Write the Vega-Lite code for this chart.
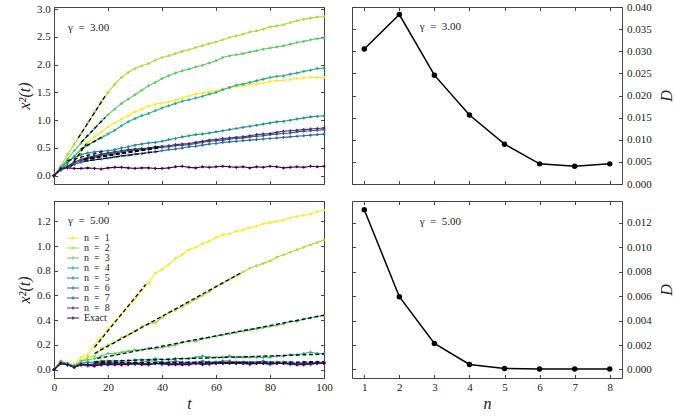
{
"$schema": "https://vega.github.io/schema/vega-lite/v6.json",
"background": "white",
"padding": {"left": 16, "top": 0, "right": 5, "bottom": 5},
"columns": 2,
"spacing": {"row": 17, "column": 28},
"bounds": "flush",
"resolve": {"scale": {"color": "independent"}},
"config": {
  "font": "Liberation Serif",
  "view": {"stroke": "#444", "strokeWidth": 1},
  "axis": {"grid": false, "domain": false, "tickSize": -3.5, "tickColor": "#333", "tickWidth": 0.9, "labelFont": "Liberation Serif", "labelFontSize": 11, "labelColor": "#222", "labelPadding": 7.2, "labelFlush": false, "labelOverlap": false, "titleFont": "Liberation Serif", "titleFontStyle": "italic", "titleFontWeight": "normal", "titleFontSize": 16, "titleColor": "#222"},
  "legend": {"labelFont": "Liberation Serif"},
  "text": {"font": "Liberation Serif"}
},
"datasets": {
"g3": [
{"s":"n = 1","t":0,"v":0},{"s":"n = 1","t":2.5,"v":0.12},{"s":"n = 1","t":5,"v":0.13},{"s":"n = 1","t":7.5,"v":0.28},{"s":"n = 1","t":10,"v":0.45},{"s":"n = 1","t":12.5,"v":0.6},{"s":"n = 1","t":15,"v":0.7},{"s":"n = 1","t":17.5,"v":0.79},{"s":"n = 1","t":20,"v":0.88},{"s":"n = 1","t":22.5,"v":0.95},{"s":"n = 1","t":25,"v":1.02},{"s":"n = 1","t":27.5,"v":1.08},{"s":"n = 1","t":30,"v":1.15},{"s":"n = 1","t":32.5,"v":1.2},{"s":"n = 1","t":35,"v":1.25},{"s":"n = 1","t":37.5,"v":1.29},{"s":"n = 1","t":40,"v":1.31},{"s":"n = 1","t":42.5,"v":1.33},{"s":"n = 1","t":45,"v":1.36},{"s":"n = 1","t":47.5,"v":1.4},{"s":"n = 1","t":50,"v":1.44},{"s":"n = 1","t":52.5,"v":1.47},{"s":"n = 1","t":55,"v":1.49},{"s":"n = 1","t":57.5,"v":1.51},{"s":"n = 1","t":60,"v":1.53},{"s":"n = 1","t":62.5,"v":1.56},{"s":"n = 1","t":65,"v":1.59},{"s":"n = 1","t":67.5,"v":1.61},{"s":"n = 1","t":70,"v":1.62},{"s":"n = 1","t":72.5,"v":1.64},{"s":"n = 1","t":75,"v":1.65},{"s":"n = 1","t":77.5,"v":1.67},{"s":"n = 1","t":80,"v":1.7},{"s":"n = 1","t":82.5,"v":1.71},{"s":"n = 1","t":85,"v":1.72},{"s":"n = 1","t":87.5,"v":1.73},{"s":"n = 1","t":90,"v":1.75},{"s":"n = 1","t":92.5,"v":1.76},{"s":"n = 1","t":95,"v":1.77},{"s":"n = 1","t":97.5,"v":1.77},{"s":"n = 1","t":100,"v":1.77},
{"s":"n = 2","t":0,"v":0},{"s":"n = 2","t":2.5,"v":0.17},{"s":"n = 2","t":5,"v":0.38},{"s":"n = 2","t":7.5,"v":0.57},{"s":"n = 2","t":10,"v":0.76},{"s":"n = 2","t":12.5,"v":0.95},{"s":"n = 2","t":15,"v":1.14},{"s":"n = 2","t":17.5,"v":1.33},{"s":"n = 2","t":20,"v":1.5},{"s":"n = 2","t":22.5,"v":1.65},{"s":"n = 2","t":25,"v":1.77},{"s":"n = 2","t":27.5,"v":1.86},{"s":"n = 2","t":30,"v":1.93},{"s":"n = 2","t":32.5,"v":1.98},{"s":"n = 2","t":35,"v":2.02},{"s":"n = 2","t":37.5,"v":2.08},{"s":"n = 2","t":40,"v":2.13},{"s":"n = 2","t":42.5,"v":2.16},{"s":"n = 2","t":45,"v":2.2},{"s":"n = 2","t":47.5,"v":2.24},{"s":"n = 2","t":50,"v":2.27},{"s":"n = 2","t":52.5,"v":2.31},{"s":"n = 2","t":55,"v":2.34},{"s":"n = 2","t":57.5,"v":2.38},{"s":"n = 2","t":60,"v":2.41},{"s":"n = 2","t":62.5,"v":2.45},{"s":"n = 2","t":65,"v":2.49},{"s":"n = 2","t":67.5,"v":2.52},{"s":"n = 2","t":70,"v":2.55},{"s":"n = 2","t":72.5,"v":2.59},{"s":"n = 2","t":75,"v":2.61},{"s":"n = 2","t":77.5,"v":2.64},{"s":"n = 2","t":80,"v":2.68},{"s":"n = 2","t":82.5,"v":2.7},{"s":"n = 2","t":85,"v":2.72},{"s":"n = 2","t":87.5,"v":2.76},{"s":"n = 2","t":90,"v":2.79},{"s":"n = 2","t":92.5,"v":2.82},{"s":"n = 2","t":95,"v":2.84},{"s":"n = 2","t":97.5,"v":2.86},{"s":"n = 2","t":100,"v":2.87},
{"s":"n = 3","t":0,"v":0},{"s":"n = 3","t":2.5,"v":0.15},{"s":"n = 3","t":5,"v":0.3},{"s":"n = 3","t":7.5,"v":0.45},{"s":"n = 3","t":10,"v":0.58},{"s":"n = 3","t":12.5,"v":0.72},{"s":"n = 3","t":15,"v":0.85},{"s":"n = 3","t":17.5,"v":0.98},{"s":"n = 3","t":20,"v":1.1},{"s":"n = 3","t":22.5,"v":1.2},{"s":"n = 3","t":25,"v":1.3},{"s":"n = 3","t":27.5,"v":1.38},{"s":"n = 3","t":30,"v":1.46},{"s":"n = 3","t":32.5,"v":1.54},{"s":"n = 3","t":35,"v":1.62},{"s":"n = 3","t":37.5,"v":1.68},{"s":"n = 3","t":40,"v":1.75},{"s":"n = 3","t":42.5,"v":1.8},{"s":"n = 3","t":45,"v":1.85},{"s":"n = 3","t":47.5,"v":1.89},{"s":"n = 3","t":50,"v":1.92},{"s":"n = 3","t":52.5,"v":1.96},{"s":"n = 3","t":55,"v":1.99},{"s":"n = 3","t":57.5,"v":2.03},{"s":"n = 3","t":60,"v":2.07},{"s":"n = 3","t":62.5,"v":2.13},{"s":"n = 3","t":65,"v":2.16},{"s":"n = 3","t":67.5,"v":2.18},{"s":"n = 3","t":70,"v":2.2},{"s":"n = 3","t":72.5,"v":2.23},{"s":"n = 3","t":75,"v":2.25},{"s":"n = 3","t":77.5,"v":2.28},{"s":"n = 3","t":80,"v":2.3},{"s":"n = 3","t":82.5,"v":2.32},{"s":"n = 3","t":85,"v":2.34},{"s":"n = 3","t":87.5,"v":2.37},{"s":"n = 3","t":90,"v":2.4},{"s":"n = 3","t":92.5,"v":2.42},{"s":"n = 3","t":95,"v":2.45},{"s":"n = 3","t":97.5,"v":2.47},{"s":"n = 3","t":100,"v":2.48},
{"s":"n = 4","t":0,"v":0},{"s":"n = 4","t":2.5,"v":0.12},{"s":"n = 4","t":5,"v":0.22},{"s":"n = 4","t":7.5,"v":0.35},{"s":"n = 4","t":10,"v":0.47},{"s":"n = 4","t":12.5,"v":0.55},{"s":"n = 4","t":15,"v":0.62},{"s":"n = 4","t":17.5,"v":0.68},{"s":"n = 4","t":20,"v":0.75},{"s":"n = 4","t":22.5,"v":0.82},{"s":"n = 4","t":25,"v":0.9},{"s":"n = 4","t":27.5,"v":0.97},{"s":"n = 4","t":30,"v":1.03},{"s":"n = 4","t":32.5,"v":1.08},{"s":"n = 4","t":35,"v":1.12},{"s":"n = 4","t":37.5,"v":1.17},{"s":"n = 4","t":40,"v":1.22},{"s":"n = 4","t":42.5,"v":1.26},{"s":"n = 4","t":45,"v":1.3},{"s":"n = 4","t":47.5,"v":1.34},{"s":"n = 4","t":50,"v":1.37},{"s":"n = 4","t":52.5,"v":1.4},{"s":"n = 4","t":55,"v":1.43},{"s":"n = 4","t":57.5,"v":1.47},{"s":"n = 4","t":60,"v":1.5},{"s":"n = 4","t":62.5,"v":1.55},{"s":"n = 4","t":65,"v":1.59},{"s":"n = 4","t":67.5,"v":1.63},{"s":"n = 4","t":70,"v":1.65},{"s":"n = 4","t":72.5,"v":1.68},{"s":"n = 4","t":75,"v":1.71},{"s":"n = 4","t":77.5,"v":1.74},{"s":"n = 4","t":80,"v":1.77},{"s":"n = 4","t":82.5,"v":1.79},{"s":"n = 4","t":85,"v":1.8},{"s":"n = 4","t":87.5,"v":1.83},{"s":"n = 4","t":90,"v":1.85},{"s":"n = 4","t":92.5,"v":1.88},{"s":"n = 4","t":95,"v":1.9},{"s":"n = 4","t":97.5,"v":1.93},{"s":"n = 4","t":100,"v":1.94},
{"s":"n = 5","t":0,"v":0},{"s":"n = 5","t":2.5,"v":0.15},{"s":"n = 5","t":5,"v":0.25},{"s":"n = 5","t":7.5,"v":0.33},{"s":"n = 5","t":10,"v":0.38},{"s":"n = 5","t":12.5,"v":0.41},{"s":"n = 5","t":15,"v":0.43},{"s":"n = 5","t":17.5,"v":0.44},{"s":"n = 5","t":20,"v":0.45},{"s":"n = 5","t":22.5,"v":0.47},{"s":"n = 5","t":25,"v":0.5},{"s":"n = 5","t":27.5,"v":0.52},{"s":"n = 5","t":30,"v":0.55},{"s":"n = 5","t":32.5,"v":0.57},{"s":"n = 5","t":35,"v":0.59},{"s":"n = 5","t":37.5,"v":0.6},{"s":"n = 5","t":40,"v":0.62},{"s":"n = 5","t":42.5,"v":0.65},{"s":"n = 5","t":45,"v":0.67},{"s":"n = 5","t":47.5,"v":0.7},{"s":"n = 5","t":50,"v":0.72},{"s":"n = 5","t":52.5,"v":0.74},{"s":"n = 5","t":55,"v":0.75},{"s":"n = 5","t":57.5,"v":0.77},{"s":"n = 5","t":60,"v":0.79},{"s":"n = 5","t":62.5,"v":0.81},{"s":"n = 5","t":65,"v":0.83},{"s":"n = 5","t":67.5,"v":0.85},{"s":"n = 5","t":70,"v":0.87},{"s":"n = 5","t":72.5,"v":0.89},{"s":"n = 5","t":75,"v":0.91},{"s":"n = 5","t":77.5,"v":0.93},{"s":"n = 5","t":80,"v":0.95},{"s":"n = 5","t":82.5,"v":0.97},{"s":"n = 5","t":85,"v":0.98},{"s":"n = 5","t":87.5,"v":1.0},{"s":"n = 5","t":90,"v":1.02},{"s":"n = 5","t":92.5,"v":1.04},{"s":"n = 5","t":95,"v":1.06},{"s":"n = 5","t":97.5,"v":1.07},{"s":"n = 5","t":100,"v":1.08},
{"s":"n = 6","t":0,"v":0},{"s":"n = 6","t":2.5,"v":0.1},{"s":"n = 6","t":5,"v":0.15},{"s":"n = 6","t":7.5,"v":0.2},{"s":"n = 6","t":10,"v":0.24},{"s":"n = 6","t":12.5,"v":0.27},{"s":"n = 6","t":15,"v":0.29},{"s":"n = 6","t":17.5,"v":0.3},{"s":"n = 6","t":20,"v":0.32},{"s":"n = 6","t":22.5,"v":0.34},{"s":"n = 6","t":25,"v":0.36},{"s":"n = 6","t":27.5,"v":0.37},{"s":"n = 6","t":30,"v":0.39},{"s":"n = 6","t":32.5,"v":0.4},{"s":"n = 6","t":35,"v":0.42},{"s":"n = 6","t":37.5,"v":0.43},{"s":"n = 6","t":40,"v":0.45},{"s":"n = 6","t":42.5,"v":0.47},{"s":"n = 6","t":45,"v":0.48},{"s":"n = 6","t":47.5,"v":0.5},{"s":"n = 6","t":50,"v":0.52},{"s":"n = 6","t":52.5,"v":0.53},{"s":"n = 6","t":55,"v":0.55},{"s":"n = 6","t":57.5,"v":0.57},{"s":"n = 6","t":60,"v":0.58},{"s":"n = 6","t":62.5,"v":0.6},{"s":"n = 6","t":65,"v":0.61},{"s":"n = 6","t":67.5,"v":0.62},{"s":"n = 6","t":70,"v":0.63},{"s":"n = 6","t":72.5,"v":0.64},{"s":"n = 6","t":75,"v":0.65},{"s":"n = 6","t":77.5,"v":0.66},{"s":"n = 6","t":80,"v":0.67},{"s":"n = 6","t":82.5,"v":0.68},{"s":"n = 6","t":85,"v":0.69},{"s":"n = 6","t":87.5,"v":0.7},{"s":"n = 6","t":90,"v":0.71},{"s":"n = 6","t":92.5,"v":0.72},{"s":"n = 6","t":95,"v":0.73},{"s":"n = 6","t":97.5,"v":0.74},{"s":"n = 6","t":100,"v":0.75},
{"s":"n = 7","t":0,"v":0},{"s":"n = 7","t":2.5,"v":0.12},{"s":"n = 7","t":5,"v":0.17},{"s":"n = 7","t":7.5,"v":0.23},{"s":"n = 7","t":10,"v":0.27},{"s":"n = 7","t":12.5,"v":0.31},{"s":"n = 7","t":15,"v":0.34},{"s":"n = 7","t":17.5,"v":0.37},{"s":"n = 7","t":20,"v":0.39},{"s":"n = 7","t":22.5,"v":0.41},{"s":"n = 7","t":25,"v":0.43},{"s":"n = 7","t":27.5,"v":0.45},{"s":"n = 7","t":30,"v":0.46},{"s":"n = 7","t":32.5,"v":0.47},{"s":"n = 7","t":35,"v":0.48},{"s":"n = 7","t":37.5,"v":0.5},{"s":"n = 7","t":40,"v":0.51},{"s":"n = 7","t":42.5,"v":0.52},{"s":"n = 7","t":45,"v":0.54},{"s":"n = 7","t":47.5,"v":0.55},{"s":"n = 7","t":50,"v":0.56},{"s":"n = 7","t":52.5,"v":0.58},{"s":"n = 7","t":55,"v":0.6},{"s":"n = 7","t":57.5,"v":0.62},{"s":"n = 7","t":60,"v":0.63},{"s":"n = 7","t":62.5,"v":0.64},{"s":"n = 7","t":65,"v":0.66},{"s":"n = 7","t":67.5,"v":0.67},{"s":"n = 7","t":70,"v":0.68},{"s":"n = 7","t":72.5,"v":0.7},{"s":"n = 7","t":75,"v":0.71},{"s":"n = 7","t":77.5,"v":0.72},{"s":"n = 7","t":80,"v":0.74},{"s":"n = 7","t":82.5,"v":0.75},{"s":"n = 7","t":85,"v":0.76},{"s":"n = 7","t":87.5,"v":0.77},{"s":"n = 7","t":90,"v":0.79},{"s":"n = 7","t":92.5,"v":0.8},{"s":"n = 7","t":95,"v":0.81},{"s":"n = 7","t":97.5,"v":0.82},{"s":"n = 7","t":100,"v":0.83},
{"s":"n = 8","t":0,"v":0},{"s":"n = 8","t":2.5,"v":0.12},{"s":"n = 8","t":5,"v":0.17},{"s":"n = 8","t":7.5,"v":0.24},{"s":"n = 8","t":10,"v":0.29},{"s":"n = 8","t":12.5,"v":0.33},{"s":"n = 8","t":15,"v":0.36},{"s":"n = 8","t":17.5,"v":0.39},{"s":"n = 8","t":20,"v":0.41},{"s":"n = 8","t":22.5,"v":0.43},{"s":"n = 8","t":25,"v":0.45},{"s":"n = 8","t":27.5,"v":0.47},{"s":"n = 8","t":30,"v":0.48},{"s":"n = 8","t":32.5,"v":0.49},{"s":"n = 8","t":35,"v":0.5},{"s":"n = 8","t":37.5,"v":0.52},{"s":"n = 8","t":40,"v":0.53},{"s":"n = 8","t":42.5,"v":0.54},{"s":"n = 8","t":45,"v":0.56},{"s":"n = 8","t":47.5,"v":0.57},{"s":"n = 8","t":50,"v":0.58},{"s":"n = 8","t":52.5,"v":0.6},{"s":"n = 8","t":55,"v":0.62},{"s":"n = 8","t":57.5,"v":0.64},{"s":"n = 8","t":60,"v":0.65},{"s":"n = 8","t":62.5,"v":0.67},{"s":"n = 8","t":65,"v":0.68},{"s":"n = 8","t":67.5,"v":0.69},{"s":"n = 8","t":70,"v":0.7},{"s":"n = 8","t":72.5,"v":0.72},{"s":"n = 8","t":75,"v":0.74},{"s":"n = 8","t":77.5,"v":0.75},{"s":"n = 8","t":80,"v":0.76},{"s":"n = 8","t":82.5,"v":0.78},{"s":"n = 8","t":85,"v":0.8},{"s":"n = 8","t":87.5,"v":0.81},{"s":"n = 8","t":90,"v":0.82},{"s":"n = 8","t":92.5,"v":0.83},{"s":"n = 8","t":95,"v":0.84},{"s":"n = 8","t":97.5,"v":0.85},{"s":"n = 8","t":100,"v":0.86},
{"s":"Exact","t":0,"v":0},{"s":"Exact","t":2.5,"v":0.12},{"s":"Exact","t":5,"v":0.14},{"s":"Exact","t":7.5,"v":0.13},{"s":"Exact","t":10,"v":0.13},{"s":"Exact","t":12.5,"v":0.14},{"s":"Exact","t":15,"v":0.13},{"s":"Exact","t":17.5,"v":0.12},{"s":"Exact","t":20,"v":0.14},{"s":"Exact","t":22.5,"v":0.15},{"s":"Exact","t":25,"v":0.15},{"s":"Exact","t":27.5,"v":0.14},{"s":"Exact","t":30,"v":0.13},{"s":"Exact","t":32.5,"v":0.14},{"s":"Exact","t":35,"v":0.14},{"s":"Exact","t":37.5,"v":0.13},{"s":"Exact","t":40,"v":0.13},{"s":"Exact","t":42.5,"v":0.14},{"s":"Exact","t":45,"v":0.16},{"s":"Exact","t":47.5,"v":0.17},{"s":"Exact","t":50,"v":0.15},{"s":"Exact","t":52.5,"v":0.14},{"s":"Exact","t":55,"v":0.16},{"s":"Exact","t":57.5,"v":0.15},{"s":"Exact","t":60,"v":0.16},{"s":"Exact","t":62.5,"v":0.17},{"s":"Exact","t":65,"v":0.16},{"s":"Exact","t":67.5,"v":0.15},{"s":"Exact","t":70,"v":0.16},{"s":"Exact","t":72.5,"v":0.14},{"s":"Exact","t":75,"v":0.16},{"s":"Exact","t":77.5,"v":0.15},{"s":"Exact","t":80,"v":0.17},{"s":"Exact","t":82.5,"v":0.16},{"s":"Exact","t":85,"v":0.14},{"s":"Exact","t":87.5,"v":0.15},{"s":"Exact","t":90,"v":0.16},{"s":"Exact","t":92.5,"v":0.15},{"s":"Exact","t":95,"v":0.17},{"s":"Exact","t":97.5,"v":0.16},{"s":"Exact","t":100,"v":0.17}
],
"g5": [
{"s":"n = 1","t":0,"v":0},{"s":"n = 1","t":2.5,"v":0.06},{"s":"n = 1","t":5,"v":0.04},{"s":"n = 1","t":7.5,"v":0.04},{"s":"n = 1","t":10,"v":0.1},{"s":"n = 1","t":12.5,"v":0.12},{"s":"n = 1","t":15,"v":0.2},{"s":"n = 1","t":17.5,"v":0.26},{"s":"n = 1","t":20,"v":0.33},{"s":"n = 1","t":22.5,"v":0.39},{"s":"n = 1","t":25,"v":0.45},{"s":"n = 1","t":27.5,"v":0.51},{"s":"n = 1","t":30,"v":0.57},{"s":"n = 1","t":32.5,"v":0.64},{"s":"n = 1","t":35,"v":0.7},{"s":"n = 1","t":37.5,"v":0.78},{"s":"n = 1","t":40,"v":0.81},{"s":"n = 1","t":42.5,"v":0.85},{"s":"n = 1","t":45,"v":0.9},{"s":"n = 1","t":47.5,"v":0.93},{"s":"n = 1","t":50,"v":0.97},{"s":"n = 1","t":52.5,"v":0.99},{"s":"n = 1","t":55,"v":1.02},{"s":"n = 1","t":57.5,"v":1.04},{"s":"n = 1","t":60,"v":1.07},{"s":"n = 1","t":62.5,"v":1.09},{"s":"n = 1","t":65,"v":1.1},{"s":"n = 1","t":67.5,"v":1.12},{"s":"n = 1","t":70,"v":1.13},{"s":"n = 1","t":72.5,"v":1.15},{"s":"n = 1","t":75,"v":1.16},{"s":"n = 1","t":77.5,"v":1.18},{"s":"n = 1","t":80,"v":1.19},{"s":"n = 1","t":82.5,"v":1.2},{"s":"n = 1","t":85,"v":1.21},{"s":"n = 1","t":87.5,"v":1.23},{"s":"n = 1","t":90,"v":1.24},{"s":"n = 1","t":92.5,"v":1.25},{"s":"n = 1","t":95,"v":1.26},{"s":"n = 1","t":97.5,"v":1.28},{"s":"n = 1","t":100,"v":1.29},
{"s":"n = 2","t":0,"v":0},{"s":"n = 2","t":2.5,"v":0.06},{"s":"n = 2","t":5,"v":0.05},{"s":"n = 2","t":7.5,"v":0.03},{"s":"n = 2","t":10,"v":0.07},{"s":"n = 2","t":12.5,"v":0.1},{"s":"n = 2","t":15,"v":0.11},{"s":"n = 2","t":17.5,"v":0.17},{"s":"n = 2","t":20,"v":0.2},{"s":"n = 2","t":22.5,"v":0.22},{"s":"n = 2","t":25,"v":0.26},{"s":"n = 2","t":27.5,"v":0.28},{"s":"n = 2","t":30,"v":0.31},{"s":"n = 2","t":32.5,"v":0.35},{"s":"n = 2","t":35,"v":0.37},{"s":"n = 2","t":37.5,"v":0.38},{"s":"n = 2","t":40,"v":0.42},{"s":"n = 2","t":42.5,"v":0.46},{"s":"n = 2","t":45,"v":0.48},{"s":"n = 2","t":47.5,"v":0.51},{"s":"n = 2","t":50,"v":0.54},{"s":"n = 2","t":52.5,"v":0.57},{"s":"n = 2","t":55,"v":0.6},{"s":"n = 2","t":57.5,"v":0.63},{"s":"n = 2","t":60,"v":0.67},{"s":"n = 2","t":62.5,"v":0.7},{"s":"n = 2","t":65,"v":0.73},{"s":"n = 2","t":67.5,"v":0.76},{"s":"n = 2","t":70,"v":0.79},{"s":"n = 2","t":72.5,"v":0.82},{"s":"n = 2","t":75,"v":0.84},{"s":"n = 2","t":77.5,"v":0.86},{"s":"n = 2","t":80,"v":0.88},{"s":"n = 2","t":82.5,"v":0.91},{"s":"n = 2","t":85,"v":0.93},{"s":"n = 2","t":87.5,"v":0.95},{"s":"n = 2","t":90,"v":0.97},{"s":"n = 2","t":92.5,"v":0.99},{"s":"n = 2","t":95,"v":1.01},{"s":"n = 2","t":97.5,"v":1.03},{"s":"n = 2","t":100,"v":1.05},
{"s":"n = 3","t":0,"v":0},{"s":"n = 3","t":2.5,"v":0.07},{"s":"n = 3","t":5,"v":0.05},{"s":"n = 3","t":7.5,"v":0.03},{"s":"n = 3","t":10,"v":0.07},{"s":"n = 3","t":12.5,"v":0.08},{"s":"n = 3","t":15,"v":0.09},{"s":"n = 3","t":17.5,"v":0.11},{"s":"n = 3","t":20,"v":0.13},{"s":"n = 3","t":22.5,"v":0.13},{"s":"n = 3","t":25,"v":0.14},{"s":"n = 3","t":27.5,"v":0.15},{"s":"n = 3","t":30,"v":0.16},{"s":"n = 3","t":32.5,"v":0.16},{"s":"n = 3","t":35,"v":0.17},{"s":"n = 3","t":37.5,"v":0.17},{"s":"n = 3","t":40,"v":0.18},{"s":"n = 3","t":42.5,"v":0.19},{"s":"n = 3","t":45,"v":0.2},{"s":"n = 3","t":47.5,"v":0.22},{"s":"n = 3","t":50,"v":0.23},{"s":"n = 3","t":52.5,"v":0.23},{"s":"n = 3","t":55,"v":0.25},{"s":"n = 3","t":57.5,"v":0.26},{"s":"n = 3","t":60,"v":0.27},{"s":"n = 3","t":62.5,"v":0.28},{"s":"n = 3","t":65,"v":0.29},{"s":"n = 3","t":67.5,"v":0.3},{"s":"n = 3","t":70,"v":0.31},{"s":"n = 3","t":72.5,"v":0.32},{"s":"n = 3","t":75,"v":0.33},{"s":"n = 3","t":77.5,"v":0.34},{"s":"n = 3","t":80,"v":0.35},{"s":"n = 3","t":82.5,"v":0.36},{"s":"n = 3","t":85,"v":0.37},{"s":"n = 3","t":87.5,"v":0.39},{"s":"n = 3","t":90,"v":0.39},{"s":"n = 3","t":92.5,"v":0.41},{"s":"n = 3","t":95,"v":0.42},{"s":"n = 3","t":97.5,"v":0.43},{"s":"n = 3","t":100,"v":0.44},
{"s":"n = 4","t":0,"v":0},{"s":"n = 4","t":2.5,"v":0.06},{"s":"n = 4","t":5,"v":0.05},{"s":"n = 4","t":7.5,"v":0.03},{"s":"n = 4","t":10,"v":0.05},{"s":"n = 4","t":12.5,"v":0.06},{"s":"n = 4","t":15,"v":0.06},{"s":"n = 4","t":17.5,"v":0.07},{"s":"n = 4","t":20,"v":0.07},{"s":"n = 4","t":22.5,"v":0.07},{"s":"n = 4","t":25,"v":0.07},{"s":"n = 4","t":27.5,"v":0.07},{"s":"n = 4","t":30,"v":0.08},{"s":"n = 4","t":32.5,"v":0.08},{"s":"n = 4","t":35,"v":0.08},{"s":"n = 4","t":37.5,"v":0.09},{"s":"n = 4","t":40,"v":0.08},{"s":"n = 4","t":42.5,"v":0.08},{"s":"n = 4","t":45,"v":0.09},{"s":"n = 4","t":47.5,"v":0.09},{"s":"n = 4","t":50,"v":0.09},{"s":"n = 4","t":52.5,"v":0.1},{"s":"n = 4","t":55,"v":0.11},{"s":"n = 4","t":57.5,"v":0.1},{"s":"n = 4","t":60,"v":0.1},{"s":"n = 4","t":62.5,"v":0.1},{"s":"n = 4","t":65,"v":0.11},{"s":"n = 4","t":67.5,"v":0.1},{"s":"n = 4","t":70,"v":0.1},{"s":"n = 4","t":72.5,"v":0.1},{"s":"n = 4","t":75,"v":0.1},{"s":"n = 4","t":77.5,"v":0.1},{"s":"n = 4","t":80,"v":0.1},{"s":"n = 4","t":82.5,"v":0.11},{"s":"n = 4","t":85,"v":0.11},{"s":"n = 4","t":87.5,"v":0.12},{"s":"n = 4","t":90,"v":0.12},{"s":"n = 4","t":92.5,"v":0.13},{"s":"n = 4","t":95,"v":0.14},{"s":"n = 4","t":97.5,"v":0.13},{"s":"n = 4","t":100,"v":0.13},
{"s":"n = 5","t":0,"v":0},{"s":"n = 5","t":2.5,"v":0.06},{"s":"n = 5","t":5,"v":0.04},{"s":"n = 5","t":7.5,"v":0.03},{"s":"n = 5","t":10,"v":0.05},{"s":"n = 5","t":12.5,"v":0.06},{"s":"n = 5","t":15,"v":0.05},{"s":"n = 5","t":17.5,"v":0.06},{"s":"n = 5","t":20,"v":0.06},{"s":"n = 5","t":22.5,"v":0.06},{"s":"n = 5","t":25,"v":0.06},{"s":"n = 5","t":27.5,"v":0.05},{"s":"n = 5","t":30,"v":0.06},{"s":"n = 5","t":32.5,"v":0.06},{"s":"n = 5","t":35,"v":0.07},{"s":"n = 5","t":37.5,"v":0.07},{"s":"n = 5","t":40,"v":0.06},{"s":"n = 5","t":42.5,"v":0.06},{"s":"n = 5","t":45,"v":0.07},{"s":"n = 5","t":47.5,"v":0.06},{"s":"n = 5","t":50,"v":0.06},{"s":"n = 5","t":52.5,"v":0.06},{"s":"n = 5","t":55,"v":0.07},{"s":"n = 5","t":57.5,"v":0.06},{"s":"n = 5","t":60,"v":0.06},{"s":"n = 5","t":62.5,"v":0.07},{"s":"n = 5","t":65,"v":0.07},{"s":"n = 5","t":67.5,"v":0.06},{"s":"n = 5","t":70,"v":0.06},{"s":"n = 5","t":72.5,"v":0.06},{"s":"n = 5","t":75,"v":0.06},{"s":"n = 5","t":77.5,"v":0.07},{"s":"n = 5","t":80,"v":0.06},{"s":"n = 5","t":82.5,"v":0.06},{"s":"n = 5","t":85,"v":0.06},{"s":"n = 5","t":87.5,"v":0.06},{"s":"n = 5","t":90,"v":0.05},{"s":"n = 5","t":92.5,"v":0.06},{"s":"n = 5","t":95,"v":0.06},{"s":"n = 5","t":97.5,"v":0.06},{"s":"n = 5","t":100,"v":0.06},
{"s":"n = 6","t":0,"v":0},{"s":"n = 6","t":2.5,"v":0.05},{"s":"n = 6","t":5,"v":0.04},{"s":"n = 6","t":7.5,"v":0.02},{"s":"n = 6","t":10,"v":0.04},{"s":"n = 6","t":12.5,"v":0.03},{"s":"n = 6","t":15,"v":0.03},{"s":"n = 6","t":17.5,"v":0.04},{"s":"n = 6","t":20,"v":0.05},{"s":"n = 6","t":22.5,"v":0.04},{"s":"n = 6","t":25,"v":0.05},{"s":"n = 6","t":27.5,"v":0.05},{"s":"n = 6","t":30,"v":0.04},{"s":"n = 6","t":32.5,"v":0.05},{"s":"n = 6","t":35,"v":0.05},{"s":"n = 6","t":37.5,"v":0.05},{"s":"n = 6","t":40,"v":0.04},{"s":"n = 6","t":42.5,"v":0.05},{"s":"n = 6","t":45,"v":0.05},{"s":"n = 6","t":47.5,"v":0.04},{"s":"n = 6","t":50,"v":0.05},{"s":"n = 6","t":52.5,"v":0.05},{"s":"n = 6","t":55,"v":0.05},{"s":"n = 6","t":57.5,"v":0.04},{"s":"n = 6","t":60,"v":0.05},{"s":"n = 6","t":62.5,"v":0.05},{"s":"n = 6","t":65,"v":0.05},{"s":"n = 6","t":67.5,"v":0.05},{"s":"n = 6","t":70,"v":0.05},{"s":"n = 6","t":72.5,"v":0.04},{"s":"n = 6","t":75,"v":0.05},{"s":"n = 6","t":77.5,"v":0.05},{"s":"n = 6","t":80,"v":0.04},{"s":"n = 6","t":82.5,"v":0.05},{"s":"n = 6","t":85,"v":0.05},{"s":"n = 6","t":87.5,"v":0.04},{"s":"n = 6","t":90,"v":0.04},{"s":"n = 6","t":92.5,"v":0.05},{"s":"n = 6","t":95,"v":0.04},{"s":"n = 6","t":97.5,"v":0.05},{"s":"n = 6","t":100,"v":0.05},
{"s":"n = 7","t":0,"v":0},{"s":"n = 7","t":2.5,"v":0.05},{"s":"n = 7","t":5,"v":0.04},{"s":"n = 7","t":7.5,"v":0.02},{"s":"n = 7","t":10,"v":0.04},{"s":"n = 7","t":12.5,"v":0.04},{"s":"n = 7","t":15,"v":0.04},{"s":"n = 7","t":17.5,"v":0.04},{"s":"n = 7","t":20,"v":0.05},{"s":"n = 7","t":22.5,"v":0.05},{"s":"n = 7","t":25,"v":0.04},{"s":"n = 7","t":27.5,"v":0.05},{"s":"n = 7","t":30,"v":0.05},{"s":"n = 7","t":32.5,"v":0.05},{"s":"n = 7","t":35,"v":0.04},{"s":"n = 7","t":37.5,"v":0.05},{"s":"n = 7","t":40,"v":0.06},{"s":"n = 7","t":42.5,"v":0.05},{"s":"n = 7","t":45,"v":0.05},{"s":"n = 7","t":47.5,"v":0.05},{"s":"n = 7","t":50,"v":0.05},{"s":"n = 7","t":52.5,"v":0.05},{"s":"n = 7","t":55,"v":0.05},{"s":"n = 7","t":57.5,"v":0.05},{"s":"n = 7","t":60,"v":0.06},{"s":"n = 7","t":62.5,"v":0.05},{"s":"n = 7","t":65,"v":0.06},{"s":"n = 7","t":67.5,"v":0.06},{"s":"n = 7","t":70,"v":0.05},{"s":"n = 7","t":72.5,"v":0.05},{"s":"n = 7","t":75,"v":0.05},{"s":"n = 7","t":77.5,"v":0.06},{"s":"n = 7","t":80,"v":0.05},{"s":"n = 7","t":82.5,"v":0.05},{"s":"n = 7","t":85,"v":0.05},{"s":"n = 7","t":87.5,"v":0.05},{"s":"n = 7","t":90,"v":0.05},{"s":"n = 7","t":92.5,"v":0.04},{"s":"n = 7","t":95,"v":0.05},{"s":"n = 7","t":97.5,"v":0.06},{"s":"n = 7","t":100,"v":0.05},
{"s":"n = 8","t":0,"v":0},{"s":"n = 8","t":2.5,"v":0.05},{"s":"n = 8","t":5,"v":0.04},{"s":"n = 8","t":7.5,"v":0.02},{"s":"n = 8","t":10,"v":0.04},{"s":"n = 8","t":12.5,"v":0.04},{"s":"n = 8","t":15,"v":0.04},{"s":"n = 8","t":17.5,"v":0.05},{"s":"n = 8","t":20,"v":0.04},{"s":"n = 8","t":22.5,"v":0.05},{"s":"n = 8","t":25,"v":0.05},{"s":"n = 8","t":27.5,"v":0.05},{"s":"n = 8","t":30,"v":0.05},{"s":"n = 8","t":32.5,"v":0.05},{"s":"n = 8","t":35,"v":0.05},{"s":"n = 8","t":37.5,"v":0.05},{"s":"n = 8","t":40,"v":0.05},{"s":"n = 8","t":42.5,"v":0.05},{"s":"n = 8","t":45,"v":0.05},{"s":"n = 8","t":47.5,"v":0.05},{"s":"n = 8","t":50,"v":0.05},{"s":"n = 8","t":52.5,"v":0.05},{"s":"n = 8","t":55,"v":0.05},{"s":"n = 8","t":57.5,"v":0.06},{"s":"n = 8","t":60,"v":0.05},{"s":"n = 8","t":62.5,"v":0.06},{"s":"n = 8","t":65,"v":0.05},{"s":"n = 8","t":67.5,"v":0.05},{"s":"n = 8","t":70,"v":0.06},{"s":"n = 8","t":72.5,"v":0.05},{"s":"n = 8","t":75,"v":0.05},{"s":"n = 8","t":77.5,"v":0.05},{"s":"n = 8","t":80,"v":0.05},{"s":"n = 8","t":82.5,"v":0.05},{"s":"n = 8","t":85,"v":0.05},{"s":"n = 8","t":87.5,"v":0.05},{"s":"n = 8","t":90,"v":0.05},{"s":"n = 8","t":92.5,"v":0.05},{"s":"n = 8","t":95,"v":0.05},{"s":"n = 8","t":97.5,"v":0.05},{"s":"n = 8","t":100,"v":0.06},
{"s":"Exact","t":0,"v":0},{"s":"Exact","t":2.5,"v":0.05},{"s":"Exact","t":5,"v":0.04},{"s":"Exact","t":7.5,"v":0.02},{"s":"Exact","t":10,"v":0.04},{"s":"Exact","t":12.5,"v":0.04},{"s":"Exact","t":15,"v":0.03},{"s":"Exact","t":17.5,"v":0.04},{"s":"Exact","t":20,"v":0.04},{"s":"Exact","t":22.5,"v":0.04},{"s":"Exact","t":25,"v":0.04},{"s":"Exact","t":27.5,"v":0.04},{"s":"Exact","t":30,"v":0.05},{"s":"Exact","t":32.5,"v":0.04},{"s":"Exact","t":35,"v":0.04},{"s":"Exact","t":37.5,"v":0.05},{"s":"Exact","t":40,"v":0.05},{"s":"Exact","t":42.5,"v":0.04},{"s":"Exact","t":45,"v":0.04},{"s":"Exact","t":47.5,"v":0.04},{"s":"Exact","t":50,"v":0.04},{"s":"Exact","t":52.5,"v":0.05},{"s":"Exact","t":55,"v":0.04},{"s":"Exact","t":57.5,"v":0.05},{"s":"Exact","t":60,"v":0.05},{"s":"Exact","t":62.5,"v":0.05},{"s":"Exact","t":65,"v":0.05},{"s":"Exact","t":67.5,"v":0.05},{"s":"Exact","t":70,"v":0.05},{"s":"Exact","t":72.5,"v":0.05},{"s":"Exact","t":75,"v":0.05},{"s":"Exact","t":77.5,"v":0.05},{"s":"Exact","t":80,"v":0.05},{"s":"Exact","t":82.5,"v":0.05},{"s":"Exact","t":85,"v":0.05},{"s":"Exact","t":87.5,"v":0.05},{"s":"Exact","t":90,"v":0.04},{"s":"Exact","t":92.5,"v":0.04},{"s":"Exact","t":95,"v":0.05},{"s":"Exact","t":97.5,"v":0.05},{"s":"Exact","t":100,"v":0.05}
],
"f3": [
{"s":"n = 1","t":6,"v":0.15},{"s":"n = 1","t":12,"v":0.58},
{"s":"n = 2","t":9,"v":0.68},{"s":"n = 2","t":19,"v":1.44},
{"s":"n = 3","t":10,"v":0.6},{"s":"n = 3","t":19,"v":1.05},
{"s":"n = 4","t":10,"v":0.48},{"s":"n = 4","t":18.5,"v":0.72},
{"s":"n = 5","t":5,"v":0.27},{"s":"n = 5","t":19,"v":0.45},
{"s":"n = 6","t":11,"v":0.26},{"s":"n = 6","t":39,"v":0.44},
{"s":"n = 7","t":11,"v":0.29},{"s":"n = 7","t":39,"v":0.5},
{"s":"n = 8","t":11,"v":0.3},{"s":"n = 8","t":39,"v":0.52}
],
"f5": [
{"s":"n = 1","t":15,"v":0.18},{"s":"n = 1","t":34,"v":0.69},
{"s":"n = 2","t":15,"v":0.13},{"s":"n = 2","t":69,"v":0.78},
{"s":"n = 3","t":16,"v":0.09},{"s":"n = 3","t":100,"v":0.44},
{"s":"n = 4","t":15,"v":0.065},{"s":"n = 4","t":100,"v":0.125},
{"s":"n = 5","t":15,"v":0.055},{"s":"n = 5","t":100,"v":0.062}
],
"d3": [
{"n":1,"D":0.0305},{"n":2,"D":0.0383},{"n":3,"D":0.0246},{"n":4,"D":0.0156},{"n":5,"D":0.009},{"n":6,"D":0.00455},{"n":7,"D":0.004},{"n":8,"D":0.00455}
],
"d5": [
{"n":1,"D":0.01309},{"n":2,"D":0.00596},{"n":3,"D":0.00213},{"n":4,"D":0.00041},{"n":5,"D":0.00008},{"n":6,"D":0.00004},{"n":7,"D":0.00004},{"n":8,"D":0.00004}
]
},
"concat": [
{
 "width": 270, "height": 177,
 "layer": [
  {"data": {"name": "g3"},
   "mark": {"type": "line", "strokeWidth": 1.1, "point": {"shape": "cross", "size": 9}},
   "encoding": {
    "x": {"field": "t", "type": "quantitative", "scale": {"domain": [0, 100], "nice": false, "zero": false}, "axis": {"orient": "bottom", "values": [0, 20, 40, 60, 80, 100], "labels": false, "title": null}},
    "y": {"field": "v", "type": "quantitative", "scale": {"domain": [-0.15, 3.04], "nice": false, "zero": false}, "axis": {"orient": "left", "values": [0, 0.5, 1, 1.5, 2, 2.5, 3], "format": ".1f", "title": "x²(t)", "titlePadding": 4}},
    "color": {"field": "s", "type": "nominal", "scale": {"domain": ["n = 1","n = 2","n = 3","n = 4","n = 5","n = 6","n = 7","n = 8","Exact"], "range": ["#fde725","#aadc32","#5ec962","#27ad81","#21918c","#2c728e","#3b528b","#472d7b","#440154"]}, "legend": null}
   }},
  {"data": {"name": "f3"},
   "mark": {"type": "line", "color": "black", "strokeWidth": 1.3, "strokeDash": [4, 2.5]},
   "encoding": {
    "x": {"field": "t", "type": "quantitative", "scale": {"domain": [0, 100], "nice": false, "zero": false}, "axis": {"orient": "top", "values": [0, 20, 40, 60, 80, 100], "labels": false, "title": null}},
    "y": {"field": "v", "type": "quantitative", "scale": {"domain": [-0.15, 3.04], "nice": false, "zero": false}, "axis": {"orient": "right", "values": [0, 0.5, 1, 1.5, 2, 2.5, 3], "labels": false, "title": null}},
    "detail": {"field": "s", "type": "nominal"}
   }},
  {"data": {"values": [{}]},
   "mark": {"type": "text", "text": "γ\u2002=\u20023.00", "align": "left", "baseline": "middle", "fontSize": 11, "color": "#222"},
   "encoding": {"x": {"datum": 5.2, "type": "quantitative", "axis": null}, "y": {"datum": 2.67, "type": "quantitative", "axis": null}}}
 ],
 "resolve": {"axis": {"x": "independent", "y": "independent"}}
},
{
 "width": 270, "height": 177,
 "layer": [
  {"data": {"name": "d3"},
   "mark": {"type": "line", "color": "black", "strokeWidth": 1.5},
   "encoding": {
    "x": {"field": "n", "type": "quantitative", "scale": {"domain": [0.65, 8.35], "nice": false, "zero": false}, "axis": {"orient": "bottom", "values": [1,2,3,4,5,6,7,8], "labels": false, "title": null}},
    "y": {"field": "D", "type": "quantitative", "scale": {"domain": [0, 0.04], "nice": false, "zero": false}, "axis": {"orient": "right", "values": [0,0.005,0.01,0.015,0.02,0.025,0.03,0.035,0.04], "format": ".3f", "labelPadding": 8, "title": "D", "titleAngle": 270, "titleBaseline": "top", "titleX": 36}}
   }},
  {"data": {"name": "d3"},
   "mark": {"type": "circle", "color": "black", "size": 30, "opacity": 1},
   "encoding": {
    "x": {"field": "n", "type": "quantitative", "scale": {"domain": [0.65, 8.35], "nice": false, "zero": false}, "axis": {"orient": "top", "values": [1,2,3,4,5,6,7,8], "labels": false, "title": null}},
    "y": {"field": "D", "type": "quantitative", "scale": {"domain": [0, 0.04], "nice": false, "zero": false}, "axis": {"orient": "left", "values": [0,0.005,0.01,0.015,0.02,0.025,0.03,0.035,0.04], "labels": false, "title": null}}
   }},
  {"data": {"values": [{}]},
   "mark": {"type": "text", "text": "γ\u2002=\u20023.00", "align": "left", "baseline": "middle", "fontSize": 11, "color": "#222"},
   "encoding": {"x": {"datum": 2.58, "type": "quantitative", "axis": null}, "y": {"datum": 0.0355, "type": "quantitative", "axis": null}}}
 ],
 "resolve": {"axis": {"x": "independent", "y": "independent"}}
},
{
 "width": 270, "height": 177,
 "layer": [
  {"data": {"name": "g5"},
   "mark": {"type": "line", "strokeWidth": 1.1, "point": {"shape": "cross", "size": 9}},
   "encoding": {
    "x": {"field": "t", "type": "quantitative", "scale": {"domain": [0, 100], "nice": false, "zero": false}, "axis": {"orient": "bottom", "values": [0, 20, 40, 60, 80, 100], "title": "t", "titlePadding": 3}},
    "y": {"field": "v", "type": "quantitative", "scale": {"domain": [-0.068, 1.365], "nice": false, "zero": false}, "axis": {"orient": "left", "values": [0, 0.2, 0.4, 0.6, 0.8, 1, 1.2], "format": ".1f", "title": "x²(t)", "titlePadding": 4}},
    "color": {"field": "s", "type": "nominal", "scale": {"domain": ["n = 1","n = 2","n = 3","n = 4","n = 5","n = 6","n = 7","n = 8","Exact"], "range": ["#fde725","#aadc32","#5ec962","#27ad81","#21918c","#2c728e","#3b528b","#472d7b","#440154"]},
     "legend": {"orient": "none", "legendX": 14, "legendY": 32, "title": null, "padding": 0, "symbolType": "M-1.7,0H1.7M0,-0.45V0.45", "symbolSize": 49, "symbolStrokeWidth": 1.2, "labelFontSize": 10, "labelColor": "#222", "labelOffset": 6, "rowPadding": -3, "labelExpr": "datum.label == 'Exact' ? 'Exact' : 'n\u2002=\u2002' + substring(datum.label, 4)"}}
   }},
  {"data": {"name": "f5"},
   "mark": {"type": "line", "color": "black", "strokeWidth": 1.3, "strokeDash": [4, 2.5]},
   "encoding": {
    "x": {"field": "t", "type": "quantitative", "scale": {"domain": [0, 100], "nice": false, "zero": false}, "axis": {"orient": "top", "values": [0, 20, 40, 60, 80, 100], "labels": false, "title": null}},
    "y": {"field": "v", "type": "quantitative", "scale": {"domain": [-0.068, 1.365], "nice": false, "zero": false}, "axis": {"orient": "right", "values": [0, 0.2, 0.4, 0.6, 0.8, 1, 1.2], "labels": false, "title": null}},
    "detail": {"field": "s", "type": "nominal"}
   }},
  {"data": {"values": [{}]},
   "mark": {"type": "text", "text": "γ\u2002=\u20025.00", "align": "left", "baseline": "middle", "fontSize": 11, "color": "#222"},
   "encoding": {"x": {"datum": 5.2, "type": "quantitative", "axis": null}, "y": {"datum": 1.2, "type": "quantitative", "axis": null}}}
 ],
 "resolve": {"axis": {"x": "independent", "y": "independent"}}
},
{
 "width": 270, "height": 177,
 "layer": [
  {"data": {"name": "d5"},
   "mark": {"type": "line", "color": "black", "strokeWidth": 1.5},
   "encoding": {
    "x": {"field": "n", "type": "quantitative", "scale": {"domain": [0.65, 8.35], "nice": false, "zero": false}, "axis": {"orient": "bottom", "values": [1,2,3,4,5,6,7,8], "format": "d", "title": "n", "titlePadding": 3}},
    "y": {"field": "D", "type": "quantitative", "scale": {"domain": [-0.0007, 0.0138], "nice": false, "zero": false}, "axis": {"orient": "right", "values": [0,0.002,0.004,0.006,0.008,0.01,0.012], "format": ".3f", "labelPadding": 8, "title": "D", "titleAngle": 270, "titleBaseline": "top", "titleX": 36}}
   }},
  {"data": {"name": "d5"},
   "mark": {"type": "circle", "color": "black", "size": 30, "opacity": 1},
   "encoding": {
    "x": {"field": "n", "type": "quantitative", "scale": {"domain": [0.65, 8.35], "nice": false, "zero": false}, "axis": {"orient": "top", "values": [1,2,3,4,5,6,7,8], "labels": false, "title": null}},
    "y": {"field": "D", "type": "quantitative", "scale": {"domain": [-0.0007, 0.0138], "nice": false, "zero": false}, "axis": {"orient": "left", "values": [0,0.002,0.004,0.006,0.008,0.01,0.012], "labels": false, "title": null}}
   }},
  {"data": {"values": [{}]},
   "mark": {"type": "text", "text": "γ\u2002=\u20025.00", "align": "left", "baseline": "middle", "fontSize": 11, "color": "#222"},
   "encoding": {"x": {"datum": 2.58, "type": "quantitative", "axis": null}, "y": {"datum": 0.0121, "type": "quantitative", "axis": null}}}
 ],
 "resolve": {"axis": {"x": "independent", "y": "independent"}}
}
]
}
